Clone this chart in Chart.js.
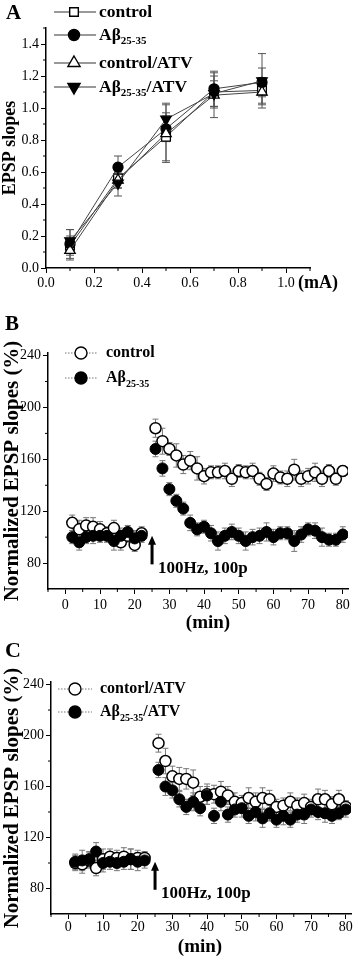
<!DOCTYPE html>
<html>
<head>
<meta charset="utf-8">
<script src="https://cdn.jsdelivr.net/npm/chart.js@4.4.1/dist/chart.umd.min.js"></script>
<style>
  body { margin: 0; background: #fff; width: 358px; height: 961px; position: relative; overflow: hidden; }
  .panel { position: absolute; left: 0; width: 358px; }
</style>
</head>
<body>
<div class="panel" style="top:0;height:300px"><canvas id="chartA"></canvas></div>
<div class="panel" style="top:310px;height:325px"><canvas id="chartB"></canvas></div>
<div class="panel" style="top:630px;height:331px"><canvas id="chartC"></canvas></div>
<script>
const SERIF = "'Liberation Serif', 'Times New Roman', serif";

// ---- Panel A: input/output (EPSP slope vs stimulus intensity) ----
const currentMA = [0.1, 0.3, 0.5, 0.7, 0.9];
const ioControl = [0.14, 0.56, 0.82, 1.10, 1.11];
const ioControlErr = [0.06, 0.06, 0.15, 0.10, 0.08];
const ioAbeta = [0.15, 0.63, 0.87, 1.12, 1.16];
const ioAbetaErr = [0.09, 0.07, 0.08, 0.11, 0.09];
const ioControlAtv = [0.11, 0.55, 0.84, 1.08, 1.10];
const ioControlAtvErr = [0.06, 0.05, 0.18, 0.14, 0.08];
const ioAbetaAtv = [0.17, 0.53, 0.93, 1.09, 1.17];
const ioAbetaAtvErr = [0.07, 0.08, 0.10, 0.08, 0.17];
const ioXTicks = [0, 0.2, 0.4, 0.6, 0.8, 1.0];
const ioXMinor = [0.1, 0.3, 0.5, 0.7, 0.9, 1.1];
const ioYTicks = [0, 0.2, 0.4, 0.6, 0.8, 1.0, 1.2, 1.4];
const ioYMinor = [0.1, 0.3, 0.5, 0.7, 0.9, 1.1, 1.3, 1.5];

// ---- Panels B, C: LTP time course (2-min bins) ----
const timeMin = [2, 4, 6, 8, 10, 12, 14, 16, 18, 20, 22,
  26, 28, 30, 32, 34, 36, 38, 40, 42, 44, 46, 48, 50, 52, 54, 56, 58, 60, 62, 64, 66, 68, 70, 72, 74, 76, 78, 80];

const ltpControl = [111, 106, 109, 108, 106, 103, 107, 96, 101, 94, 103,
  184, 174, 168, 163, 156, 159, 153, 147, 150, 150, 151, 145, 151, 150, 151, 145, 141, 149, 146, 145, 152, 145, 147, 150, 145, 151, 145, 151];
const ltpControlErr = [6, 7, 6, 7, 6, 5, 6, 6, 5, 5, 5,
  7, 10, 5, 9, 7, 7, 9, 6, 5, 5, 6, 6, 5, 5, 6, 5, 5, 6, 5, 6, 8, 6, 6, 7, 6, 5, 5, 4];
const ltpAbeta = [100, 96, 100, 101, 101, 101, 97, 101, 104, 99, 101,
  168, 153, 137, 128, 122, 111, 106, 108, 103, 97, 101, 104, 101, 97, 100, 101, 104, 100, 103, 103, 97, 102, 106, 105, 100, 98, 98, 102];
const ltpAbetaErr = [5, 6, 5, 6, 5, 5, 7, 6, 5, 6, 5,
  6, 6, 5, 5, 5, 6, 5, 5, 6, 7, 6, 6, 6, 7, 6, 6, 7, 6, 5, 5, 8, 6, 5, 6, 7, 5, 5, 6];

const atvControl = [100, 99, 102, 96, 103, 105, 104, 105, 103, 104, 104,
  194, 180, 168, 166, 166, 163, 152, 154, 154, 156, 153, 148, 147, 151, 148, 151, 150, 144, 145, 148, 145, 147, 144, 150, 150, 146, 150, 144];
const atvControlErr = [6, 7, 6, 6, 8, 6, 6, 7, 8, 6, 5,
  7, 10, 8, 9, 8, 10, 8, 8, 7, 8, 7, 7, 6, 8, 7, 8, 7, 6, 6, 7, 6, 7, 6, 8, 7, 6, 7, 5];
const atvAbeta = [101, 102, 103, 109, 100, 101, 100, 101, 103, 101, 102,
  173, 160, 157, 150, 144, 148, 143, 153, 137, 148, 138, 142, 143, 137, 140, 135, 139, 134, 137, 134, 138, 138, 142, 140, 139, 137, 139, 142];
const atvAbetaErr = [6, 8, 6, 7, 7, 6, 6, 6, 8, 7, 6,
  6, 7, 6, 6, 6, 7, 6, 7, 6, 7, 6, 6, 7, 6, 7, 7, 6, 6, 7, 6, 6, 7, 6, 6, 7, 6, 5, 6];

const ltpXTicks = [0, 10, 20, 30, 40, 50, 60, 70, 80];
const ltpXMinor = [-5, 5, 15, 25, 35, 45, 55, 65, 75];
const ltpYTicks = [80, 120, 160, 200, 240];
const ltpYMinor = [100, 140, 180, 220];

// tetanus marker (minute, arrow tip / tail in %)
const tetanusMin = 25;
const tetanusArrow = [101, 79];

Chart.defaults.font.family = SERIF;
Chart.defaults.color = '#000';
Chart.defaults.animation = false;

function drawMarker(ctx, style, x, y, r, filled) {
  ctx.beginPath();
  if (style === 'circle') {
    ctx.arc(x, y, r, 0, Math.PI * 2);
  } else if (style === 'rect') {
    ctx.rect(x - r * 0.72, y - r * 0.72, r * 1.44, r * 1.44);
  } else if (style === 'triangle') {
    ctx.moveTo(x, y - r);
    ctx.lineTo(x + r * 0.87, y + r * 0.5);
    ctx.lineTo(x - r * 0.87, y + r * 0.5);
  } else if (style === 'triangleDown') {
    ctx.moveTo(x, y + r);
    ctx.lineTo(x + r * 0.87, y - r * 0.5);
    ctx.lineTo(x - r * 0.87, y - r * 0.5);
  }
  ctx.closePath();
  ctx.fillStyle = filled ? '#000' : '#fff';
  ctx.fill();
  ctx.lineWidth = 1.4;
  ctx.strokeStyle = '#000';
  ctx.stroke();
}

// text with subscript parts: [{t:'Aβ'}, {t:'25-35', sub:true}, {t:'/ATV'}]
function drawRich(ctx, parts, x, y, size) {
  ctx.textBaseline = 'middle';
  ctx.textAlign = 'left';
  ctx.fillStyle = '#000';
  parts.forEach(p => {
    const fs = p.sub ? Math.round(size * 0.62) : size;
    ctx.font = `bold ${fs}px ${SERIF}`;
    ctx.fillText(p.t, x, p.sub ? y + size * 0.38 : y);
    x += ctx.measureText(p.t).width;
  });
}

const errorBars = {
  id: 'errorBars',
  beforeDatasetsDraw(chart) {
    const { ctx } = chart;
    const yScale = chart.scales.y;
    chart.data.datasets.forEach((ds, i) => {
      if (!ds.errors) return;
      const meta = chart.getDatasetMeta(i);
      const cw = ds.capWidth || 3;
      ctx.save();
      ctx.strokeStyle = ds.errorColor || '#777';
      ctx.lineWidth = 1;
      ctx.beginPath();
      meta.data.forEach((pt, j) => {
        const v = ds.data[j].y, e = ds.errors[j];
        const top = yScale.getPixelForValue(v + e);
        const bot = yScale.getPixelForValue(v - e);
        ctx.moveTo(pt.x, top); ctx.lineTo(pt.x, bot);
        ctx.moveTo(pt.x - cw, top); ctx.lineTo(pt.x + cw, top);
        ctx.moveTo(pt.x - cw, bot); ctx.lineTo(pt.x + cw, bot);
      });
      ctx.stroke();
      ctx.restore();
    });
  }
};

const minorTicks = {
  id: 'minorTicks',
  afterDraw(chart, args, opts) {
    const { ctx, chartArea, scales } = chart;
    ctx.save();
    ctx.strokeStyle = '#000';
    ctx.lineWidth = 1;
    ctx.beginPath();
    (opts.x || []).forEach(v => {
      const px = scales.x.getPixelForValue(v);
      ctx.moveTo(px, chartArea.bottom); ctx.lineTo(px, chartArea.bottom + opts.len);
    });
    (opts.y || []).forEach(v => {
      const py = scales.y.getPixelForValue(v);
      ctx.moveTo(chartArea.left, py); ctx.lineTo(chartArea.left - opts.len, py);
    });
    ctx.stroke();
    ctx.restore();
  }
};

const panelLegend = {
  id: 'panelLegend',
  afterDraw(chart, args, opts) {
    if (!opts.items) return;
    const { ctx } = chart;
    opts.items.forEach(it => {
      ctx.save();
      ctx.strokeStyle = opts.lineColor;
      ctx.lineWidth = 1;
      ctx.setLineDash(opts.dash || []);
      ctx.beginPath();
      ctx.moveTo(opts.lineX[0], it.y);
      ctx.lineTo(opts.lineX[1], it.y);
      ctx.stroke();
      ctx.setLineDash([]);
      drawMarker(ctx, it.marker, opts.markerX, it.y, it.r || opts.markerR, it.filled);
      drawRich(ctx, it.parts, opts.textX, it.y, opts.fontSize);
      ctx.restore();
    });
  }
};

const panelText = {
  id: 'panelText',
  afterDraw(chart, args, opts) {
    const { ctx } = chart;
    (opts.items || []).forEach(it => {
      ctx.save();
      ctx.font = `bold ${it.size}px ${SERIF}`;
      ctx.fillStyle = '#000';
      ctx.textAlign = it.align || 'left';
      ctx.textBaseline = it.baseline || 'middle';
      ctx.fillText(it.text, it.x, it.y);
      ctx.restore();
    });
  }
};

const stimArrow = {
  id: 'stimArrow',
  afterDraw(chart, args, opts) {
    if (opts.x == null) return;
    const { ctx, scales } = chart;
    const x = scales.x.getPixelForValue(opts.x);
    const tip = scales.y.getPixelForValue(opts.y[0]);
    const tail = scales.y.getPixelForValue(opts.y[1]);
    ctx.save();
    ctx.fillStyle = '#000';
    ctx.fillRect(x - 1.5, tip + 7, 3, tail - tip - 7);
    ctx.beginPath();
    ctx.moveTo(x, tip);
    ctx.lineTo(x + 4, tip + 9);
    ctx.lineTo(x - 4, tip + 9);
    ctx.closePath();
    ctx.fill();
    ctx.font = `bold 17px ${SERIF}`;
    ctx.textBaseline = 'middle';
    ctx.fillText(opts.label, x + 6, tail + 4);
    ctx.restore();
  }
};

function axisCommon(tickVals, fmt, width, height, padding) {
  return {
    type: 'linear',
    afterBuildTicks: s => { s.ticks = tickVals.map(v => ({ value: v })); },
    ticks: { callback: fmt, color: '#000', font: { size: 14 }, padding: padding, maxRotation: 0, autoSkip: false },
    grid: { drawOnChartArea: false, drawTicks: true, tickLength: 5, tickColor: '#000', tickWidth: 1 },
    border: { color: '#000', width: 1.5 },
    afterFit: s => {
      if (width != null) s.width = width;
      if (height != null) s.height = height;
    },
  };
}

// ---------- Panel A ----------
function ioSet(label, values, errs, style, filled, rotation, r) {
  return {
    label,
    data: currentMA.map((x, i) => ({ x, y: values[i] })),
    errors: errs,
    errorColor: '#555',
    capWidth: 4,
    showLine: true,
    borderColor: '#444',
    borderWidth: 1,
    pointStyle: style,
    pointRotation: rotation,
    pointRadius: r,
    pointBackgroundColor: filled ? '#000' : '#fff',
    pointBorderColor: '#000',
    pointBorderWidth: 1.3,
  };
}

const xA = axisCommon(ioXTicks, v => v.toFixed(1), null, 32, 2);
xA.min = 0; xA.max = 1.1;
const yA = axisCommon(ioYTicks, v => v.toFixed(1), 46, null, 2);
yA.min = 0; yA.max = 1.5;
yA.title = { display: true, text: 'EPSP slopes', font: { size: 18, weight: 'bold' }, padding: 0 };

new Chart(document.getElementById('chartA'), {
  type: 'scatter',
  data: {
    datasets: [
      ioSet('Aβ25-35/ATV', ioAbetaAtv, ioAbetaAtvErr, 'triangle', true, 180, 6),
      ioSet('control/ATV', ioControlAtv, ioControlAtvErr, 'triangle', false, 0, 6),
      ioSet('Aβ25-35', ioAbeta, ioAbetaErr, 'circle', true, 0, 5),
      ioSet('control', ioControl, ioControlErr, 'rect', false, 0, 6.2),
    ],
  },
  options: {
    responsive: true,
    maintainAspectRatio: false,
    events: [],
    layout: { padding: { top: 28, right: 48, left: 0, bottom: 0 } },
    scales: { x: xA, y: yA },
    plugins: {
      legend: { display: false },
      tooltip: { enabled: false },
      minorTicks: { x: ioXMinor, y: ioYMinor, len: 3 },
      panelLegend: {
        lineColor: '#333', lineX: [54, 96], markerX: 74, markerR: 6, textX: 99, fontSize: 17.5,
        items: [
          { y: 12, marker: 'rect', filled: false, parts: [{ t: 'control' }] },
          { y: 35, marker: 'circle', filled: true, r: 5.5, parts: [{ t: 'Aβ' }, { t: '25-35', sub: true }] },
          { y: 63, marker: 'triangle', filled: false, r: 7, parts: [{ t: 'control/ATV' }] },
          { y: 87, marker: 'triangleDown', filled: true, r: 7, parts: [{ t: 'Aβ' }, { t: '25-35', sub: true }, { t: '/ATV' }] },
        ],
      },
      panelText: {
        items: [
          { text: 'A', x: 6, y: 19, size: 21, baseline: 'alphabetic' },
          { text: '(mA)', x: 298, y: 283, size: 18 },
        ],
      },
    },
  },
  plugins: [errorBars, minorTicks, panelLegend, panelText],
});

// ---------- Panels B and C ----------
function buildLtpChart(id, cfg) {
  const x = axisCommon(ltpXTicks, v => String(v), null, cfg.xHeight, cfg.xPad);
  x.min = -5; x.max = 81.5;
  const y = axisCommon(ltpYTicks, v => String(v), cfg.yWidth, null, 2);
  y.min = 60; y.max = 242;
  y.title = { display: true, text: 'Normalized EPSP slopes (%)', font: { size: 21, weight: 'bold' }, padding: 0 };

  return new Chart(document.getElementById(id), {
    type: 'scatter',
    data: {
      datasets: [
        {
          label: 'filled',
          data: timeMin.map((t, i) => ({ x: t, y: cfg.filled[i] })),
          errors: cfg.filledErr,
          capWidth: 3,
          errorColor: '#777',
          pointRadius: 5.5,
          pointBackgroundColor: '#000',
          pointBorderColor: '#000',
          pointBorderWidth: 1,
        },
        {
          label: 'open',
          data: timeMin.map((t, i) => ({ x: t, y: cfg.open[i] })),
          errors: cfg.openErr,
          capWidth: 3,
          errorColor: '#777',
          pointRadius: 5.5,
          pointBackgroundColor: '#fff',
          pointBorderColor: '#000',
          pointBorderWidth: 1.5,
        },
      ],
    },
    options: {
      responsive: true,
      maintainAspectRatio: false,
      events: [],
      layout: { padding: cfg.padding },
      scales: { x, y },
      plugins: {
        legend: { display: false },
        tooltip: { enabled: false },
        minorTicks: { x: ltpXMinor, y: ltpYMinor, len: 3 },
        stimArrow: { x: tetanusMin, y: tetanusArrow, label: '100Hz, 100p' },
        panelLegend: cfg.legend,
        panelText: { items: cfg.texts },
      },
    },
    plugins: [errorBars, minorTicks, panelLegend, panelText, stimArrow],
  });
}

buildLtpChart('chartB', {
  open: ltpControl, openErr: ltpControlErr,
  filled: ltpAbeta, filledErr: ltpAbetaErr,
  xHeight: 46, xPad: 3, yWidth: 48,
  padding: { top: 43, right: 10, left: 0, bottom: 0 },
  legend: {
    lineColor: '#777', dash: [1.5, 1.5], lineX: [65, 97], markerX: 81, markerR: 6, textX: 106, fontSize: 16,
    items: [
      { y: 43, marker: 'circle', filled: false, parts: [{ t: 'control' }] },
      { y: 68, marker: 'circle', filled: true, parts: [{ t: 'Aβ' }, { t: '25-35', sub: true }] },
    ],
  },
  texts: [
    { text: 'B', x: 5, y: 20, size: 21, baseline: 'alphabetic' },
    { text: '(min)', x: 208, y: 313, size: 19, align: 'center' },
  ],
});

buildLtpChart('chartC', {
  open: atvControl, openErr: atvControlErr,
  filled: atvAbeta, filledErr: atvAbetaErr,
  xHeight: 47, xPad: 0, yWidth: 51,
  padding: { top: 52, right: 4, left: 0, bottom: 0 },
  legend: {
    lineColor: '#777', dash: [1.5, 1.5], lineX: [58, 92], markerX: 75, markerR: 6, textX: 100, fontSize: 16,
    items: [
      { y: 59, marker: 'circle', filled: false, parts: [{ t: 'contorl/ATV' }] },
      { y: 82, marker: 'circle', filled: true, parts: [{ t: 'Aβ' }, { t: '25-35', sub: true }, { t: '/ATV' }] },
    ],
  },
  texts: [
    { text: 'C', x: 5, y: 27, size: 22, baseline: 'alphabetic' },
    { text: '(min)', x: 200, y: 317, size: 19, align: 'center' },
  ],
});
</script>
</body>
</html>
